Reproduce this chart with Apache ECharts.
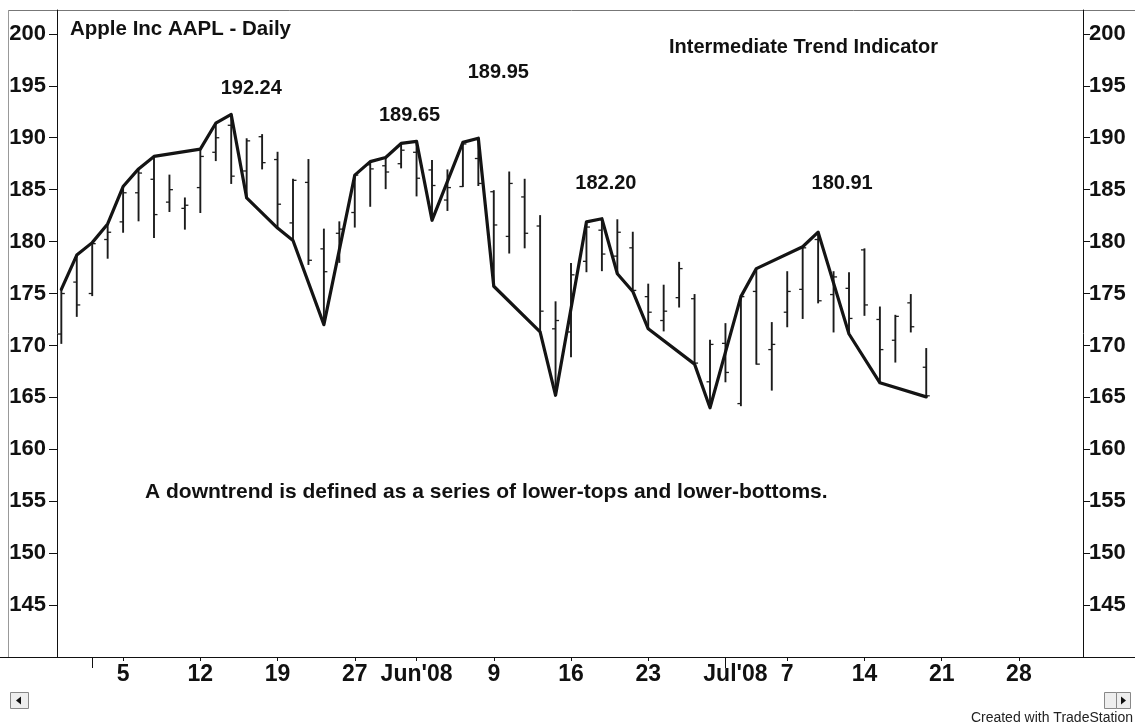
<!DOCTYPE html>
<html>
<head>
<meta charset="utf-8">
<script src="https://cdn.jsdelivr.net/npm/echarts@6/dist/echarts.min.js"></script>
<style>
html,body{margin:0;padding:0;background:#fff;}
#chart{width:1135px;height:726px;}
</style>
</head>
<body>
<div id="chart"></div>
<script>
// ---- DATA ----
const dates = ['Apr 29','Apr 30','May 1','May 2','May 5','May 6','May 7','May 8','May 9','May 12',
  'May 13','May 14','May 15','May 16','May 19','May 20','May 21','May 22','May 23','May 27',
  'May 28','May 29','May 30','Jun 2','Jun 3','Jun 4','Jun 5','Jun 6','Jun 9','Jun 10',
  'Jun 11','Jun 12','Jun 13','Jun 16','Jun 17','Jun 18','Jun 19','Jun 20','Jun 23','Jun 24',
  'Jun 25','Jun 26','Jun 27','Jun 30','Jul 1','Jul 2','Jul 3','Jul 7','Jul 8','Jul 9',
  'Jul 10','Jul 11','Jul 14','Jul 15','Jul 16','Jul 17','Jul 18'];
const open  = [171.1,176.1,175.0,180.2,181.9,184.7,186.0,183.8,183.2,185.2,
  188.6,191.2,186.8,190.1,187.9,181.8,185.7,179.3,180.8,182.8,
  187.4,187.3,187.5,188.6,186.9,184.0,185.3,188.0,184.8,180.5,
  184.3,181.5,171.6,171.3,178.1,181.1,178.6,179.4,174.7,172.4,
  174.6,174.5,166.5,170.2,164.4,175.2,169.6,173.2,175.4,180.2,
  174.9,175.5,179.2,172.5,170.5,174.1,167.9];
const high  = [175.4,178.7,179.9,181.7,185.3,187.0,188.2,186.4,184.2,188.9,
  191.4,192.24,189.9,190.3,188.6,186.0,187.9,181.2,181.9,186.4,
  187.7,188.1,189.45,189.65,187.8,186.9,189.55,189.95,184.9,186.7,
  186.0,182.5,174.2,177.9,181.9,182.2,182.1,180.9,175.9,175.8,
  178.0,174.9,170.5,172.1,174.8,177.4,172.2,177.1,179.5,180.91,
  177.1,177.0,179.3,173.7,172.9,174.9,169.7];
const low   = [170.2,172.8,174.8,178.4,180.9,182.0,180.4,182.9,181.2,182.8,
  187.8,185.6,184.2,187.0,181.3,180.1,177.8,172.0,178.0,181.4,
  183.4,185.1,187.1,184.4,182.05,183.0,185.3,185.4,175.7,178.9,
  179.4,171.3,165.2,168.9,177.1,177.2,176.9,175.2,171.6,171.4,
  173.7,168.2,164.0,166.5,164.2,168.2,165.7,171.8,172.6,174.1,
  171.3,171.1,172.9,166.4,168.4,171.3,165.05];
const close = [175.0,173.9,179.8,180.9,184.7,186.6,182.6,185.0,183.5,188.2,
  190.0,186.3,189.7,187.6,183.6,185.9,178.2,177.1,181.2,186.4,
  187.0,186.7,188.8,186.1,185.4,185.2,189.4,185.6,181.6,185.6,
  180.8,173.3,172.4,176.8,181.4,178.8,180.9,175.3,173.2,173.3,
  177.4,168.3,170.1,167.4,174.7,168.2,170.1,175.2,179.4,174.3,
  176.6,172.6,173.9,169.6,172.8,171.8,165.15];
// Intermediate trend (swing) line: value at each turning bar, null where skipped
const swing = [175.4,178.7,179.9,181.7,185.3,187.0,188.2,null,null,188.9,
  191.4,192.24,184.2,null,181.3,180.1,null,172.0,null,186.4,
  187.7,188.1,189.45,189.65,182.05,null,189.55,189.95,175.7,null,
  null,171.3,165.2,null,181.9,182.2,176.9,175.2,171.6,null,
  null,168.2,164.0,null,174.7,177.4,null,null,179.5,180.91,
  null,171.1,null,166.4,null,null,165.05];
// Labelled swing tops
const peakDates  = ['May 14','Jun 2','Jun 6','Jun 18','Jul 9'];
const peakValues = [192.24, 189.65, 189.95, 182.20, 180.91];
// X axis tick labels (future dates continue the daily slot count)
const tickSlots  = [4, 9, 14, 19, 23, 28, 33, 38, 43, 47, 52, 57, 62];
const tickLabels = ['5','12','19','27',"Jun'08",'9','16','23',"Jul'08",'7','14','21','28'];
const monthSlots = [2, 43];
const yTicks = [145,150,155,160,165,170,175,180,185,190,195,200];

// ---- LAYOUT / STYLE ----
const FONT = '"Liberation Sans", Arial, sans-serif';
const peakOffsets = [[20,-26],[-7,-26],[20,-66],[4,-35],[24,-49]];

const ohlc = dates.map((d, i) => [i, open[i], high[i], low[i], close[i]]);
const swingData = swing.map((v, i) => [i, v]);
const peakData = peakDates.map((d, k) => ({
  value: [dates.indexOf(d), peakValues[k]],
  label: { offset: peakOffsets[k] }
}));

const chart = echarts.init(document.getElementById('chart'), null, {renderer: 'canvas'});

function yAxisFor(pos) {
  return {
    type: 'value', min: 140, max: 202.3, interval: 5, position: pos,
    splitLine: { show: false },
    axisLine: { show: true, onZero: false, lineStyle: { color: '#111', width: 1 } },
    axisTick: { show: true, length: pos === 'left' ? 8 : 7, lineStyle: { color: '#111' }, customValues: yTicks },
    axisLabel: {
      customValues: yTicks,
      color: '#111', fontFamily: FONT, fontWeight: 'bold', fontSize: 22,
      margin: pos === 'left' ? 11 : 6
    }
  };
}

chart.setOption({
  animation: false,
  backgroundColor: '#ffffff',
  grid: { left: 57, right: 52, top: 10, bottom: 69, containLabel: false },
  xAxis: [{
    type: 'value', min: -0.28, max: 66.15,
    splitLine: { show: false },
    axisLine: { show: true, onZero: false, lineStyle: { color: '#111', width: 1 } },
    axisTick: { show: true, length: 4, lineStyle: { color: '#111' }, customValues: tickSlots },
    axisLabel: {
      customValues: tickSlots,
      formatter: v => {
        const k = tickSlots.indexOf(v);
        if (k < 0) return '';
        return tickLabels[k].indexOf("'") >= 0 && tickLabels[k].indexOf('Jul') === 0
          ? '{s|' + tickLabels[k] + '}' : tickLabels[k];
      },
      rich: { s: { padding: [0, 0, 0, 20], fontFamily: FONT, fontWeight: 'bold', fontSize: 23, color: '#111' } },
      color: '#111', fontFamily: FONT, fontWeight: 'bold', fontSize: 23, margin: 6
    }
  }, {
    type: 'value', min: -0.28, max: 66.15, position: 'bottom',
    splitLine: { show: false },
    axisLine: { show: false, onZero: false },
    axisTick: { show: true, length: 11, lineStyle: { color: '#111' }, customValues: monthSlots },
    axisLabel: { show: false }
  }],
  yAxis: [ yAxisFor('left'), yAxisFor('right') ],
  series: [{
    type: 'custom',
    name: 'AAPL',
    data: ohlc,
    encode: { x: 0, y: [1, 2, 3, 4] },
    clip: true,
    renderItem: (params, api) => {
      const x = api.value(0);
      const o = api.coord([x, api.value(1)]);
      const h = api.coord([x, api.value(2)]);
      const l = api.coord([x, api.value(3)]);
      const c = api.coord([x, api.value(4)]);
      const st = { stroke: '#1c1c1c', lineWidth: 1.9 };
      const tk = { stroke: '#1c1c1c', lineWidth: 1.3 };
      return {
        type: 'group',
        children: [
          { type: 'line', shape: { x1: h[0], y1: h[1] - 0.5, x2: l[0], y2: l[1] + 0.5 }, style: st },
          { type: 'line', shape: { x1: o[0] - 3.5, y1: o[1], x2: o[0], y2: o[1] }, style: tk },
          { type: 'line', shape: { x1: c[0], y1: c[1], x2: c[0] + 3.5, y2: c[1] }, style: tk }
        ]
      };
    }
  }, {
    type: 'line',
    name: 'Intermediate Trend Indicator',
    data: swingData,
    connectNulls: true,
    symbol: 'none',
    lineStyle: { color: '#141414', width: 3.2, join: 'round', cap: 'round' },
    z: 3
  }, {
    type: 'scatter',
    data: peakData,
    symbol: 'circle',
    symbolSize: 1,
    itemStyle: { color: 'rgba(0,0,0,0)', opacity: 1 },
    silent: true,
    label: {
      show: true, position: 'inside', opacity: 1,
      formatter: p => p.value[1].toFixed(2),
      color: '#111', fontFamily: FONT, fontWeight: 'bold', fontSize: 20
    },
    emphasis: { disabled: true },
    z: 4
  }],
  graphic: [
    { type: 'line', shape: { x1: 8, y1: 10.5, x2: 1135, y2: 10.5 }, style: { stroke: '#777', lineWidth: 1 } },
    { type: 'line', shape: { x1: 8.5, y1: 10, x2: 8.5, y2: 657 }, style: { stroke: '#999', lineWidth: 1 } },
    { type: 'line', shape: { x1: 0, y1: 657.5, x2: 1135, y2: 657.5 }, style: { stroke: '#111', lineWidth: 1 } },
    { type: 'text', left: 70, top: 19, style: { text: 'Apple Inc AAPL - Daily', fill: '#111', font: 'bold 20.5px ' + FONT } },
    { type: 'text', left: 669, top: 37, style: { text: 'Intermediate Trend Indicator', fill: '#111', font: 'bold 20px ' + FONT } },
    { type: 'text', left: 145, top: 482, style: { text: 'A downtrend is defined as a series of lower-tops and lower-bottoms.', fill: '#111', font: 'bold 21px ' + FONT } },
    { type: 'text', right: 2, top: 711, style: { text: 'Created with TradeStation', fill: '#222', font: '14px ' + FONT } },
    // scrollbar buttons
    { type: 'rect', shape: { x: 10.5, y: 692.5, width: 18, height: 16 }, style: { fill: '#eeeeee', stroke: '#888', lineWidth: 1 } },
    { type: 'polygon', shape: { points: [[16, 700.5], [21, 696.5], [21, 704.5]] }, style: { fill: '#111' } },
    { type: 'rect', shape: { x: 1104.5, y: 692.5, width: 12, height: 16 }, style: { fill: '#eeeeee', stroke: '#888', lineWidth: 1 } },
    { type: 'rect', shape: { x: 1116.5, y: 692.5, width: 14, height: 16 }, style: { fill: '#eeeeee', stroke: '#888', lineWidth: 1 } },
    { type: 'polygon', shape: { points: [[1126, 700.5], [1121, 696.5], [1121, 704.5]] }, style: { fill: '#111' } }
  ]
});
</script>
</body>
</html>
